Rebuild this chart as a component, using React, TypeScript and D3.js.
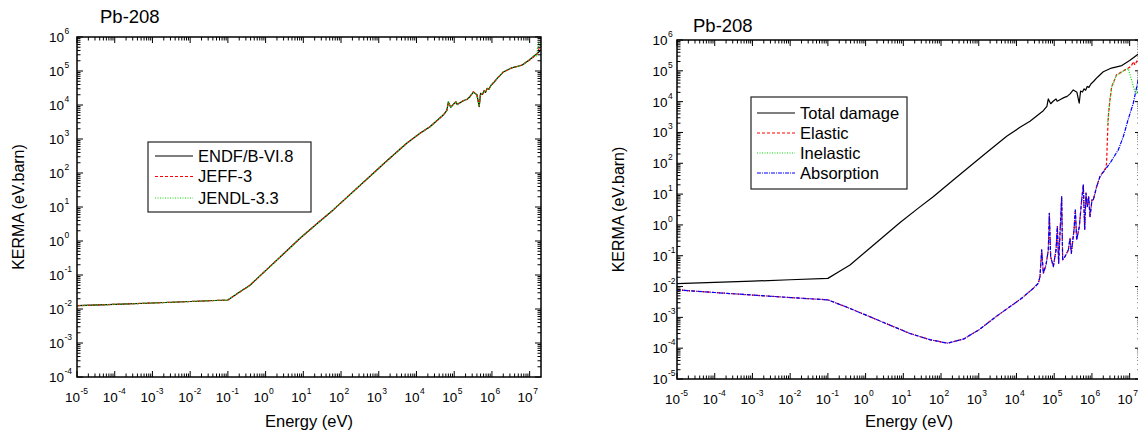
import React from "react";
import * as d3 from "d3";

const W = 1138;
const H = 433;
const FONT = "'Liberation Sans', Arial, Helvetica, sans-serif";

// ---- total KERMA, Pb-208 (energy in eV, kerma in eV.barn) ----
const endfE = [1e-5, 1e-4, 1e-3, 1e-2, 0.1, 0.2, 0.386, 1, 3, 8.2, 25, 62, 200, 716, 1620, 5500, 12400, 22800, 51400, 64000, 69700, 80700, 95000, 111600, 120000, 150000, 180000, 220000, 260000, 320000, 400000, 460000, 500000, 560000, 620000, 680000, 750000, 830000, 950000, 1.1e6, 1.4e6, 2.0e6, 3.3e6, 6.2e6, 1.0e7, 1.39e7, 1.7e7, 2e7];
const endfK = [0.0125, 0.0137, 0.015, 0.0166, 0.0184, 0.031, 0.05, 0.135, 0.42, 1.2, 3.5, 8.2, 27, 98, 225, 748, 1470, 2300, 5080, 7000, 12250, 8550, 10500, 12250, 10300, 12000, 13500, 14800, 17500, 24000, 20000, 8900, 22000, 20500, 26000, 23500, 31000, 29000, 38000, 45000, 62000, 93000, 123000, 148000, 215000, 290000, 350000, 420000];

const jeffE = [1e-5, 1e-4, 1e-3, 1e-2, 0.1, 0.2, 0.386, 1, 3, 8.2, 25, 62, 200, 716, 1620, 5500, 12400, 22800, 51400, 64000, 69700, 80700, 95000, 111600, 120000, 150000, 180000, 220000, 260000, 320000, 400000, 460000, 500000, 560000, 620000, 680000, 750000, 830000, 950000, 1.1e6, 1.4e6, 2.0e6, 3.3e6, 6.2e6, 1.0e7, 1.39e7, 1.6e7, 1.8e7, 2e7];
const jeffK = [0.0125, 0.0137, 0.015, 0.0166, 0.0184, 0.031, 0.05, 0.135, 0.42, 1.2, 3.5, 8.2, 27, 98, 225, 748, 1470, 2300, 5080, 7100, 12000, 8700, 10600, 12400, 10400, 12100, 13700, 14600, 17800, 24500, 19800, 9500, 22500, 20800, 26500, 23000, 31500, 29500, 37500, 45500, 61000, 94000, 122000, 150000, 210000, 280000, 330000, 480000, 560000];

const jendlE = [1e-5, 1e-4, 1e-3, 1e-2, 0.1, 0.2, 0.386, 1, 3, 8.2, 25, 62, 200, 716, 1620, 5500, 12400, 22800, 51400, 64000, 69700, 80700, 95000, 111600, 120000, 150000, 180000, 220000, 260000, 320000, 400000, 460000, 500000, 560000, 620000, 680000, 750000, 830000, 950000, 1.1e6, 1.4e6, 2.0e6, 3.3e6, 6.2e6, 1.0e7, 1.39e7, 1.5e7, 1.6e7, 1.75e7, 2e7];
const jendlK = [0.0125, 0.0137, 0.015, 0.0166, 0.0184, 0.031, 0.05, 0.135, 0.42, 1.2, 3.5, 8.2, 27, 98, 225, 748, 1470, 2300, 5080, 6900, 12500, 8400, 10400, 12600, 10200, 11800, 13400, 15000, 17200, 23500, 20500, 9200, 21500, 21000, 25500, 24000, 30500, 28500, 38500, 44000, 63000, 92000, 124000, 146000, 220000, 300000, 260000, 420000, 650000, 500000];

// ---- partial damage, right panel ----
// elastic and absorption overlap below ~2 MeV
const lowE = [1e-5, 1e-4, 1e-3, 1e-2, 0.1, 0.3, 1, 4.4, 15, 50, 150, 400, 1000, 3000, 13700, 28000, 37900, 42000, 46600, 51500, 60700, 69800, 74300, 80500, 94800, 111700, 121100, 131200, 142600, 157800, 167500, 193200, 237100, 262400, 284400, 335000, 363100, 394500, 463400, 534600, 591600, 642700, 696600, 755100, 820400, 889200, 1.005e6, 1.089e6, 1.337e6, 1.637e6];
const lowK = [0.0078, 0.0064, 0.0053, 0.0044, 0.0037, 0.0022, 0.0012, 0.00056, 0.0003, 0.00019, 0.000145, 0.0002, 0.00039, 0.0011, 0.00416, 0.00879, 0.01276, 0.021, 0.154, 0.027, 0.0502, 0.154, 2.39, 0.0938, 0.0444, 0.154, 0.883, 0.0569, 0.536, 8.32, 0.0731, 0.0938, 0.154, 0.369, 0.12, 0.689, 3.07, 0.326, 0.883, 6.49, 19.9, 0.689, 10.7, 3.94, 8.32, 1.87, 6.49, 6.49, 17.6, 37.1];

const absHighE = [3.0e6, 5.0e6, 6.8e6, 9.1e6, 1.25e7, 1.55e7, 1.7e7, 2e7];
const absHighK = [100, 272, 736, 2600, 8900, 31000, 55000, 90000];

const elHighE = [2.3e6, 2.45e6, 2.6e6, 2.72e6, 3.0e6, 3.35e6, 4.5e6, 7.5e6, 9.2e6, 1.1e7, 1.25e7, 1.38e7, 1.7e7, 2e7];
const elHighK = [70, 100, 900, 3300, 11500, 31000, 74000, 107000, 123000, 140000, 200000, 155000, 258000, 280000];

const inelE = [2.6e6, 2.72e6, 3.0e6, 3.35e6, 4.5e6, 7.5e6, 9.2e6, 1.12e7, 1.38e7, 1.6e7, 1.75e7, 2e7];
const inelK = [1800, 3300, 11000, 30000, 72000, 105000, 118000, 51000, 21000, 18000, 40000, 60000];

const xDomain: [number, number] = [1e-5, 2e7];
const xExps = d3.range(-5, 8);

type Series = { name: string; e: number[]; k: number[]; color: string; dash?: string; width: number };

const zip = (e: number[], k: number[]) => e.map((v, i) => [v, k[i]] as [number, number]);

const leftSeries: Series[] = [
  { name: "ENDF/B-VI.8", e: endfE, k: endfK, color: "#000000", width: 1.2 },
  { name: "JEFF-3", e: jeffE, k: jeffK, color: "#ff0000", dash: "3,2", width: 1.2 },
  { name: "JENDL-3.3", e: jendlE, k: jendlK, color: "#00dd00", dash: "1,1.5", width: 1.2 },
];

const rightSeries: Series[] = [
  { name: "Total damage", e: endfE, k: endfK, color: "#000000", width: 1.2 },
  { name: "Elastic", e: lowE.concat(elHighE), k: lowK.concat(elHighK), color: "#ff0000", dash: "3,2", width: 1.2 },
  { name: "Inelastic", e: inelE, k: inelK, color: "#00dd00", dash: "1,1.5", width: 1.2 },
  { name: "Absorption", e: lowE.concat(absHighE), k: lowK.concat(absHighK), color: "#0000ff", dash: "4,1,1,1", width: 1.2 },
];

type PanelProps = {
  id: string;
  left: number; right: number; top: number; bottom: number;
  yMinExp: number; yMaxExp: number;
  series: Series[];
  drawOrder: number[];
  title: [number, number];
  yLabelX: number;
  labelGap: number;
  legend: { x: number; y: number; w: number; h: number; rows: number[]; lineX: [number, number]; textX: number };
};

function Panel(p: PanelProps) {
  const xs = d3.scaleLog().domain(xDomain).range([p.left, p.right]);
  const ys = d3.scaleLog().domain([10 ** p.yMinExp, 10 ** p.yMaxExp]).range([p.bottom, p.top]);
  const line = d3.line<[number, number]>().x((d) => xs(d[0])).y((d) => ys(d[1]));

  const xMinor: number[] = [];
  xExps.forEach((ex) => d3.range(2, 10).forEach((m) => {
    const v = m * 10 ** ex;
    if (v < xDomain[1]) xMinor.push(v);
  }));
  const yExps = d3.range(p.yMinExp, p.yMaxExp + 1);
  const yMinor: number[] = [];
  yExps.slice(0, -1).forEach((ex) => d3.range(2, 10).forEach((m) => yMinor.push(m * 10 ** ex)));

  const MAJ = 6, MIN = 3.5;
  const midX = (p.left + p.right) / 2;
  const midY = (p.top + p.bottom) / 2;

  return (
    <g>
      <defs>
        <clipPath id={p.id}>
          <rect x={p.left} y={p.top} width={p.right - p.left} height={p.bottom - p.top} />
        </clipPath>
      </defs>

      {/* data */}
      <g clipPath={`url(#${p.id})`}>
        {p.drawOrder.map((i) => {
          const s = p.series[i];
          return (
            <path key={s.name} d={line(zip(s.e, s.k)) || ""} fill="none" stroke={s.color}
              strokeWidth={s.width} strokeDasharray={s.dash} strokeLinejoin="round" />
          );
        })}
      </g>

      {/* ticks, mirrored on all sides, pointing inward */}
      <g stroke="#000" strokeWidth={1}>
        {xExps.map((ex) => {
          const x = xs(10 ** ex);
          return (
            <g key={"xm" + ex}>
              <line x1={x} x2={x} y1={p.bottom} y2={p.bottom - MAJ} />
              <line x1={x} x2={x} y1={p.top} y2={p.top + MAJ} />
            </g>
          );
        })}
        {xMinor.map((v, i) => (
          <g key={"xn" + i}>
            <line x1={xs(v)} x2={xs(v)} y1={p.bottom} y2={p.bottom - MIN} />
            <line x1={xs(v)} x2={xs(v)} y1={p.top} y2={p.top + MIN} />
          </g>
        ))}
        {yExps.map((ex) => {
          const y = ys(10 ** ex);
          return (
            <g key={"ym" + ex}>
              <line x1={p.left} x2={p.left + MAJ} y1={y} y2={y} />
              <line x1={p.right} x2={p.right - MAJ} y1={y} y2={y} />
            </g>
          );
        })}
        {yMinor.map((v, i) => (
          <g key={"yn" + i}>
            <line x1={p.left} x2={p.left + MIN} y1={ys(v)} y2={ys(v)} />
            <line x1={p.right} x2={p.right - MIN} y1={ys(v)} y2={ys(v)} />
          </g>
        ))}
      </g>
      <rect x={p.left} y={p.top} width={p.right - p.left} height={p.bottom - p.top}
        fill="none" stroke="#000" strokeWidth={1.5} />

      {/* tick labels */}
      <g fontFamily={FONT} fill="#000">
        {xExps.map((ex) => {
          const x = xs(10 ** ex);
          return (
            <g key={"xl" + ex}>
              <text x={x + 3} y={p.bottom + 25} fontSize={13.5} textAnchor="end">10</text>
              <text x={x + 3.5} y={p.bottom + 17} fontSize={8.5}>{ex}</text>
            </g>
          );
        })}
        {yExps.map((ex) => {
          const y = ys(10 ** ex);
          const xe = p.left - p.labelGap;
          return (
            <g key={"yl" + ex}>
              <text x={xe} y={y + 5} fontSize={13.5} textAnchor="end">10</text>
              <text x={xe + 0.5} y={y - 3} fontSize={8.5}>{ex}</text>
            </g>
          );
        })}
      </g>

      {/* titles */}
      <text x={p.title[0]} y={p.title[1]} fontFamily={FONT} fontSize={18.5}>Pb-208</text>
      <text x={midX} y={427} fontFamily={FONT} fontSize={16.5} textAnchor="middle">Energy (eV)</text>
      <text transform={`translate(${p.yLabelX},${midY}) rotate(-90)`} fontFamily={FONT}
        fontSize={16} textAnchor="middle">KERMA (eV.barn)</text>

      {/* legend */}
      <rect x={p.legend.x} y={p.legend.y} width={p.legend.w} height={p.legend.h}
        fill="#fff" stroke="#222" strokeWidth={1.2} />
      {p.series.map((s, i) => {
        const by = p.legend.rows[i];
        return (
          <g key={"lg" + s.name}>
            <line x1={p.legend.lineX[0]} x2={p.legend.lineX[1]} y1={by - 5.5} y2={by - 5.5}
              stroke={s.color} strokeWidth={s.width} strokeDasharray={s.dash} />
            <text x={p.legend.textX} y={by} fontFamily={FONT} fontSize={16.5}>{s.name}</text>
          </g>
        );
      })}
    </g>
  );
}

export default function App() {
  return (
    <svg width={W} height={H} viewBox={`0 0 ${W} ${H}`}
      style={{ position: "absolute", left: 0, top: 0, display: "block", background: "#fff" }}>
      <rect width={W} height={H} fill="#fff" />
      <Panel
        id="clipL" left={77} right={541} top={37} bottom={377}
        yMinExp={-4} yMaxExp={6}
        series={leftSeries} drawOrder={[0, 1, 2]}
        title={[100, 23]} yLabelX={24} labelGap={13}
        legend={{ x: 148, y: 142, w: 163, h: 70, rows: [161.5, 182, 203.5], lineX: [155, 193], textX: 198 }}
      />
      <Panel
        id="clipR" left={677} right={1141} top={40} bottom={379}
        yMinExp={-5} yMaxExp={6}
        series={rightSeries} drawOrder={[0, 1, 3, 2]}
        title={[693, 32]} yLabelX={624} labelGap={9.5}
        legend={{ x: 751, y: 97, w: 156, h: 92, rows: [118.5, 138.5, 158.5, 178.5], lineX: [757, 795], textX: 800 }}
      />
    </svg>
  );
}
